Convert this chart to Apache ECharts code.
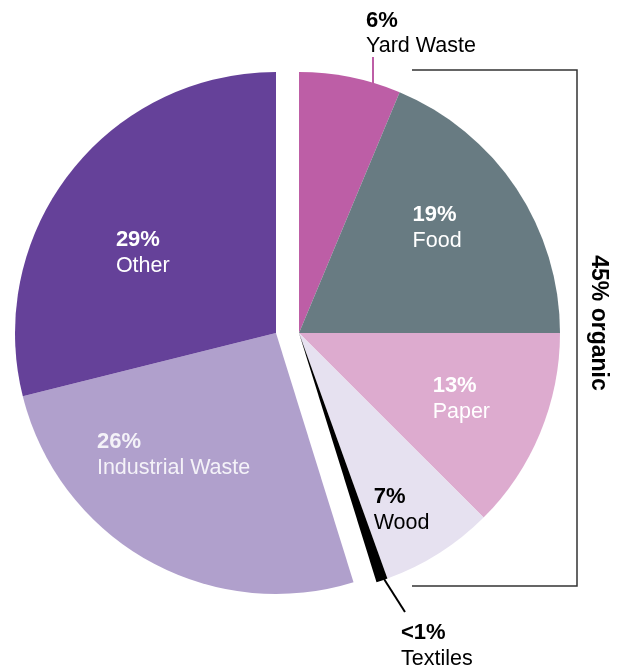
<!DOCTYPE html>
<html>
<head>
<meta charset="utf-8">
<script src="https://cdn.jsdelivr.net/npm/echarts@6/dist/echarts.min.js"></script>
<style>
html,body{margin:0;padding:0;background:#fff;}
#chart{width:619px;height:666px;}
</style>
</head>
<body>
<div id="chart"></div>
<script>
// ---- data ----
const categories = ['Yard Waste', 'Food', 'Paper', 'Wood', 'Textiles', 'Industrial Waste', 'Other'];
const shares = [6.3, 18.7, 12.5, 7.0, 0.7, 25.9, 28.9];
const pctLabels = ['6%', '19%', '13%', '7%', '<1%', '26%', '29%'];
const pieGroup = ['right', 'right', 'right', 'right', 'right', 'left', 'left'];
const organicLabel = '45% organic';

// ---- styles ----
const colors = ['#bd5ea6', '#687b82', '#ddabcf', '#e6e1f0', '#000000', '#b0a0cc', '#654199'];
const textColors = ['#000', '#fff', '#fff', '#000', '#000', '#f4f2f8', '#fff'];
const outsideLabel = [true, false, false, false, true, false, false];
const FONT = "'Liberation Sans', Arial, Helvetica, sans-serif";
const R = 261;
const centers = { right: [299, 333], left: [276, 333] };

// label adjustments (offsets from the inside position, or absolute for outside labels)
const insideOffsets = { 1: [27, -31], 2: [39, 15], 3: [31, 64], 5: [-37, 6], 6: [-28, 2] };
const outsidePlace = {
  0: { x: 366, y: 33.5, line: [[373, 83], [373, 57]] },
  4: { x: 401, y: 646, line: [[384, 579], [405, 612]] }
};

function makeSeries(side) {
  return {
    type: 'pie',
    center: centers[side],
    radius: R,
    startAngle: 90,
    clockwise: true,
    avoidLabelOverlap: false,
    silent: true,
    animation: false,
    emphasis: { disabled: true, scale: false },
    itemStyle: { borderWidth: 0 },
    label: {
      position: 'inside',
      fontFamily: FONT,
      formatter: function (p) {
        return '{b|' + pctLabels[p.dataIndex] + '}\n{n|' + categories[p.dataIndex] + '}';
      }
    },
    labelLayout: function (params) {
      const i = params.dataIndex;
      if (pieGroup[i] !== side) return {};
      if (outsidePlace[i]) {
        return {
          x: outsidePlace[i].x, y: outsidePlace[i].y,
          align: 'left', verticalAlign: 'middle',
          labelLinePoints: outsidePlace[i].line
        };
      }
      const o = insideOffsets[i] || [0, 0];
      return { dx: o[0], dy: o[1] };
    },
    data: categories.map(function (c, i) {
      const mine = pieGroup[i] === side;
      const tc = textColors[i];
      return {
        name: c,
        value: shares[i],
        itemStyle: { color: mine ? colors[i] : 'rgba(0,0,0,0)' },
        label: {
          show: mine,
          position: outsideLabel[i] ? 'outside' : 'inside',
          rich: {
            b: { fontFamily: FONT, fontWeight: 'bold', fontSize: 22, lineHeight: 26, color: tc, align: 'left' },
            n: { fontFamily: FONT, fontSize: 21.5, lineHeight: 26, color: tc, align: 'left' }
          }
        },
        labelLine: {
          show: mine && outsideLabel[i],
          lineStyle: { color: colors[i], width: 2 }
        }
      };
    })
  };
}

const chart = echarts.init(document.getElementById('chart'), null, { renderer: 'canvas' });
chart.setOption({
  animation: false,
  backgroundColor: '#ffffff',
  tooltip: { show: false },
  series: [makeSeries('right'), makeSeries('left')],
  graphic: [
    {
      type: 'polyline',
      silent: true,
      shape: { points: [[412, 70], [577, 70], [577, 586], [412, 586]] },
      style: { stroke: '#333333', lineWidth: 1.5, fill: null }
    },
    {
      type: 'text',
      silent: true,
      x: 598, y: 323,
      rotation: -Math.PI / 2,
      style: {
        text: organicLabel,
        fontFamily: FONT,
        fontWeight: 'bold',
        fontSize: 23,
        fill: '#000',
        align: 'center',
        verticalAlign: 'middle'
      }
    }
  ]
});
</script>
</body>
</html>
